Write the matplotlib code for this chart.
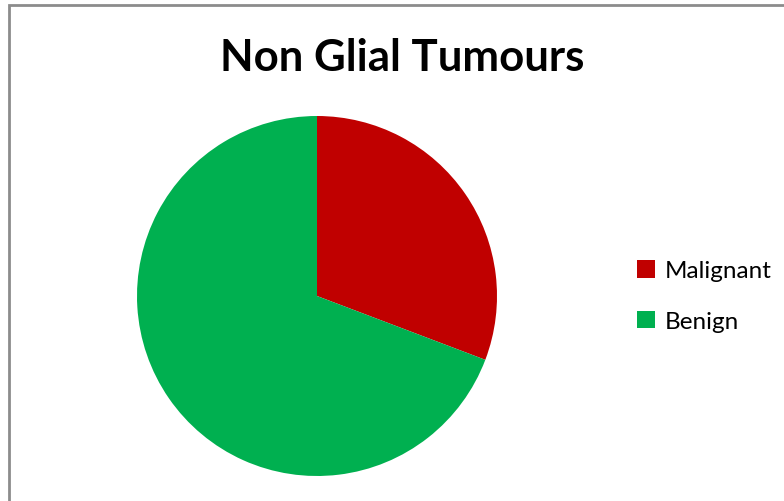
import matplotlib
matplotlib.use("Agg")
import matplotlib.pyplot as plt
from matplotlib.patches import Rectangle

# data
labels = ["Malignant", "Benign"]
values = [8, 18]
colors = ["#C00000", "#00B050"]
title = "Non Glial Tumours"

plt.rcParams["font.family"] = ["Lato", "DejaVu Sans"]

fig = plt.figure(figsize=(7.84, 5.02), dpi=100)

# chart area frame (grey border, only top/left visible in original)
fig.patches.append(Rectangle((9 / 784, -0.05), 1.2, (502 - 6) / 502 + 0.05,
                             transform=fig.transFigure, fill=False,
                             edgecolor="#8c8c8c", linewidth=2))

ax = fig.add_axes([137 / 784, 25 / 502, 360 / 784, 360 / 502])
wedges, _ = ax.pie(values, colors=colors, startangle=90, counterclock=False,
                   wedgeprops=dict(linewidth=0))
ax.set_xlim(-1, 1)
ax.set_ylim(-1, 1)
ax.set_aspect("equal")

fig.text(402 / 784, 1 - 58 / 502, title, ha="center", va="center",
         fontsize=31.5, fontweight="bold", color="black")

fig.legend(wedges, labels, loc="center left",
           bbox_to_anchor=(615 / 784, 1 - 297 / 502), frameon=False,
           fontsize=17.5, handlelength=0.75, handleheight=0.75,
           handletextpad=0.4, labelspacing=1.2)

fig.savefig("out.png", dpi=100)
